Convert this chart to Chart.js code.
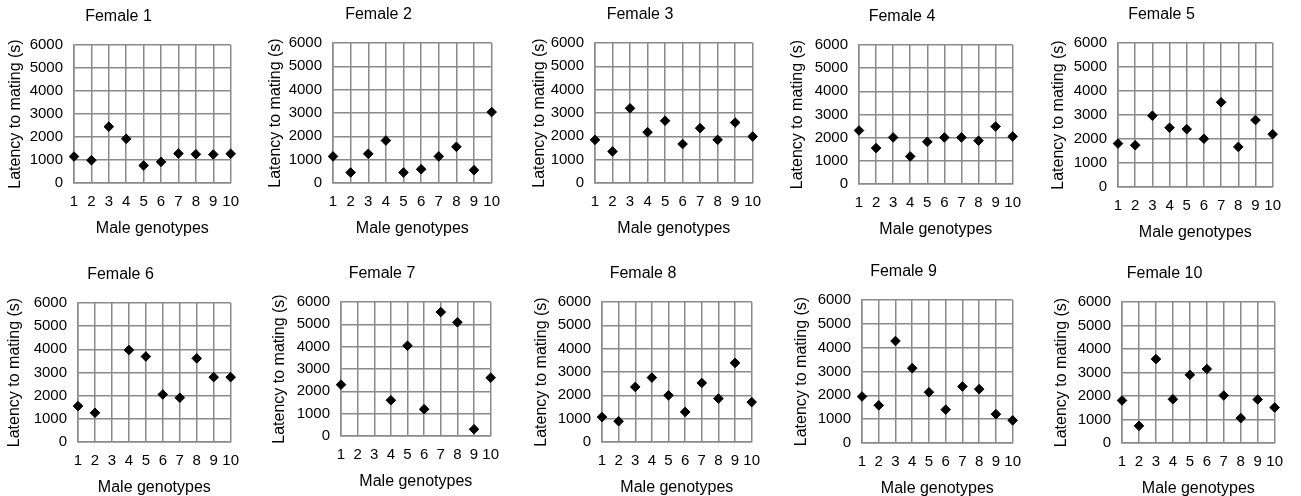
<!DOCTYPE html>
<html>
<head>
<meta charset="utf-8">
<script src="https://cdn.jsdelivr.net/npm/chart.js@4"></script>
<style>
  body { margin: 0; background: #fff; width: 1301px; height: 496px; position: relative; overflow: hidden; }
  canvas { position: absolute; }
</style>
</head>
<body>
<script>
const genotypes = [1, 2, 3, 4, 5, 6, 7, 8, 9, 10];
const yTicks = [0, 1000, 2000, 3000, 4000, 5000, 6000];

const female1 = [1150, 990, 2450, 1920, 760, 920, 1280, 1250, 1240, 1270];
const female2 = [1140, 450, 1250, 1820, 450, 590, 1140, 1550, 550, 3040];
const female3 = [1850, 1350, 3200, 2180, 2670, 1670, 2350, 1850, 2590, 1990];
const female4 = [2310, 1550, 2010, 1190, 1820, 2010, 2010, 1870, 2480, 2050];
const female5 = [1810, 1740, 2970, 2470, 2410, 2010, 3530, 1670, 2790, 2200];
const female6 = [1550, 1260, null, 3970, 3690, 2050, 1910, 3610, 2800, 2800];
const female7 = [2300, null, null, 1600, 4040, 1200, 5550, 5090, 300, 2610];
const female8 = [1070, 890, 2360, 2760, 2000, 1290, 2530, 1860, 3390, 1710];
const female9 = [1950, 1580, 4280, 3140, 2130, 1400, 2370, 2260, 1210, 950];
const female10 = [1810, 730, 3570, 1860, 2900, 3150, 2020, 1060, 1850, 1510];

const females = [female1, female2, female3, female4, female5, female6, female7, female8, female9, female10];
const titles = ["Female 1", "Female 2", "Female 3", "Female 4", "Female 5",
                "Female 6", "Female 7", "Female 8", "Female 9", "Female 10"];

// plot rectangles in page pixels, plus gap from y title to plot
const panels = [
  { l: 74,   t: 45,  r: 237,  b: 183, yt: 58 },
  { l: 333,  t: 43,  r: 498,  b: 183, yt: 57 },
  { l: 595,  t: 43,  r: 759,  b: 183, yt: 55 },
  { l: 859,  t: 45,  r: 1019, b: 184, yt: 61 },
  { l: 1118, t: 43,  r: 1279, b: 187, yt: 59 },
  { l: 78,   t: 303, r: 237,  b: 442, yt: 63 },
  { l: 341,  t: 302, r: 497,  b: 436, yt: 61 },
  { l: 602,  t: 302, r: 758,  b: 442, yt: 60 },
  { l: 862,  t: 300, r: 1019, b: 443, yt: 60 },
  { l: 1122, t: 302, r: 1281, b: 443, yt: 60 }
];

const FONT = "'Liberation Sans', Arial, sans-serif";
const GRID = '#8a8a8a';
const YW = 74, TOPH = 45, XH = 55, RP = 12;

function createPanel(i) {
  const p = panels[i];
  const w = p.r - p.l, h = p.b - p.t;
  const canvas = document.createElement('canvas');
  canvas.width = YW + w + RP;
  canvas.height = TOPH + h + XH;
  canvas.style.left = (p.l - YW) + 'px';
  canvas.style.top = (p.t - TOPH) + 'px';
  document.body.appendChild(canvas);

  const points = genotypes
    .map((g, k) => ({ x: g, y: females[i][k] }))
    .filter(d => d.y !== null);

  return new Chart(canvas, {
    type: 'scatter',
    data: {
      datasets: [{
        data: points,
        pointStyle: 'rectRot',
        pointRadius: 4.8,
        pointHoverRadius: 4.8,
        backgroundColor: '#000',
        borderColor: '#000',
        borderWidth: 1,
        clip: false
      }]
    },
    options: {
      responsive: false,
      animation: false,
      devicePixelRatio: 1,
      layout: { padding: { left: 0, right: RP, top: 0, bottom: 0 } },
      plugins: {
        legend: { display: false },
        tooltip: { enabled: false },
        title: {
          display: true,
          text: titles[i],
          color: '#000',
          font: { family: FONT, size: 16, weight: 'normal' },
          padding: { top: 7, bottom: 18.8 }
        }
      },
      scales: {
        x: {
          type: 'linear',
          min: genotypes[0],
          max: genotypes[genotypes.length - 1],
          afterFit: s => { s.height = XH; },
          afterBuildTicks: s => { s.ticks = genotypes.map(v => ({ value: v })); },
          ticks: {
            color: '#000', font: { family: FONT, size: 15 }, padding: 10,
            autoSkip: false, maxRotation: 0, callback: v => String(v)
          },
          grid: { color: GRID, lineWidth: 1.5, drawTicks: false },
          border: { color: GRID, width: 1.5 },
          title: {
            display: true, text: 'Male genotypes', color: '#000',
            font: { family: FONT, size: 16 }, padding: { top: 0, bottom: 0 }
          }
        },
        y: {
          min: yTicks[0],
          max: yTicks[yTicks.length - 1],
          afterFit: s => { s.width = YW; },
          afterBuildTicks: s => { s.ticks = yTicks.map(v => ({ value: v })); },
          ticks: { color: '#000', font: { family: FONT, size: 15 }, padding: 11, callback: v => String(v) },
          grid: { color: GRID, lineWidth: 1.5, drawTicks: false },
          border: { color: GRID, width: 1.5 },
          title: {
            display: true, text: 'Latency to mating (s)', color: '#000',
            font: { family: FONT, size: 16 },
            padding: { top: YW - p.yt - 10, bottom: 0 }
          }
        }
      }
    }
  });
}

window.onload = () => {
  for (let i = 0; i < panels.length; i++) createPanel(i);
};
</script>
</body>
</html>
